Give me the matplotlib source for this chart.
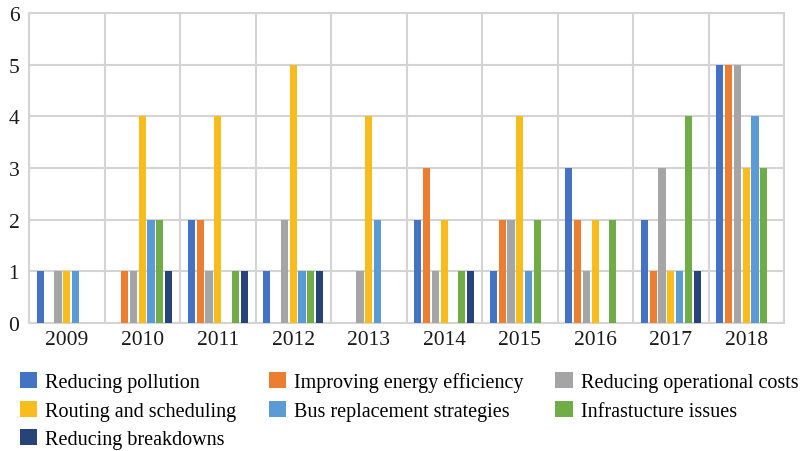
import numpy as np
from matplotlib import pyplot as plt

years = ['2009', '2010', '2011', '2012', '2013', '2014', '2015', '2016', '2017', '2018']

series_names = ['Reducing pollution', 'Improving energy efficiency', 'Reducing operational costs',
                'Routing and scheduling', 'Bus replacement strategies', 'Infrastucture issues',
                'Reducing breakdowns']

reducing_pollution = [1, 0, 2, 1, 0, 2, 1, 3, 2, 5]
energy_efficiency = [0, 1, 2, 0, 0, 3, 2, 2, 1, 5]
operational_costs = [1, 1, 1, 2, 1, 1, 2, 1, 3, 5]
routing_scheduling = [1, 4, 4, 5, 4, 2, 4, 2, 1, 3]
bus_replacement = [1, 2, 0, 1, 2, 0, 1, 0, 1, 4]
infrastucture = [0, 2, 1, 1, 0, 1, 2, 2, 4, 3]
breakdowns = [0, 1, 1, 1, 0, 1, 0, 0, 1, 0]

colors = ['#4472C4', '#ED7D31', '#A5A5A5', '#F8BC1C', '#5B9BD5', '#70AD47', '#264478']

plt.rcParams['font.family'] = ['Liberation Serif', 'DejaVu Serif']

fig = plt.figure(figsize=(8.02, 4.52), dpi=100)
ax = fig.add_axes([29 / 802, 1 - 324 / 452, 755 / 802, 310 / 452])

all_series = [reducing_pollution, energy_efficiency, operational_costs, routing_scheduling,
              bus_replacement, infrastucture, breakdowns]
x = np.arange(len(years))
slot = 0.116
width = 0.093
bars = []
for i, vals in enumerate(all_series):
    b = ax.bar(x + (i - 3) * slot, vals, width, color=colors[i], label=series_names[i], zorder=3)
    bars.append(b)

ax.set_xlim(-0.5, len(years) - 0.5)
ax.set_ylim(0, 6)
ax.set_xticks(x)
ax.set_xticklabels(years)
ax.set_xticks(np.arange(-0.5, len(years)), minor=True)
ax.set_yticks(range(7))
ax.tick_params(axis='both', which='both', length=0, labelsize=15.5, colors='#1a1a1a')
ax.tick_params(axis='x', pad=5)
ax.tick_params(axis='y', pad=7)
ax.grid(axis='y', which='major', color='#d4d4d4', linewidth=1.5, zorder=0)
ax.grid(axis='x', which='minor', color='#d4d4d4', linewidth=1.5, zorder=0)
for s in ax.spines.values():
    s.set_color('#d4d4d4')
    s.set_linewidth(1.5)

# legend fills column by column, so reorder to read row by row
order = [0, 3, 6, 1, 4, 2, 5]
fig.legend([bars[i] for i in order], [series_names[i] for i in order],
           loc='upper left', bbox_to_anchor=(20 / 802, 1 - 373 / 452), ncol=3, frameon=False,
           fontsize=14.5, borderpad=0, borderaxespad=0, handlelength=0.85, handleheight=0.85,
           handletextpad=0.4, labelspacing=0.43, columnspacing=1.6)

plt.savefig('out.png', dpi=100)
